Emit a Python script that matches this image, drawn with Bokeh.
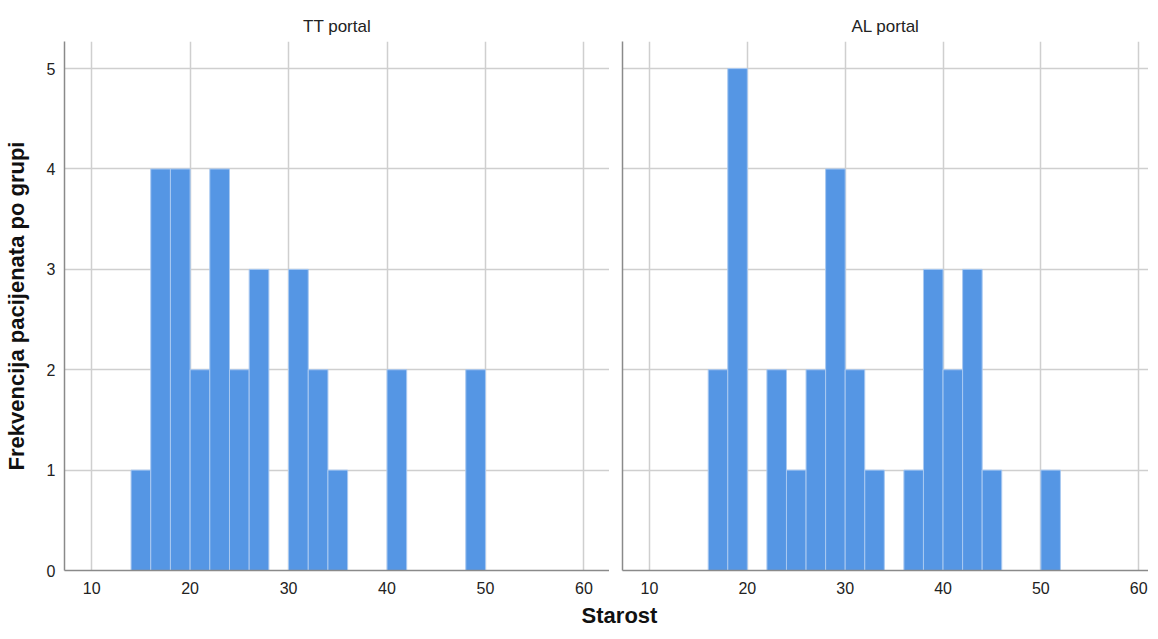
from bokeh.plotting import figure
from bokeh.layouts import column, row
from bokeh.models import Range1d, Label, FixedTicker, Spacer
from bokeh.embed import file_html
from bokeh.resources import INLINE

# Data
panel_titles = ["TT portal", "AL portal"]
bin_starts = [14, 16, 18, 20, 22, 24, 26, 28, 30, 32, 34, 36, 38, 40, 42, 44, 46, 48, 50]
bin_width = 2
tt_counts = [1, 4, 4, 2, 4, 2, 3, 0, 3, 2, 1, 0, 0, 2, 0, 0, 0, 2, 0]
al_counts = [0, 2, 5, 0, 2, 1, 2, 4, 2, 1, 0, 1, 3, 2, 3, 1, 0, 0, 1]
x_ticks = [10, 20, 30, 40, 50, 60]
y_ticks = [0, 1, 2, 3, 4, 5]
x_label = "Starost"
y_label = "Frekvencija pacijenata po grupi"

FONT = "Liberation Sans"
BAR = "#5596e4"
GRID = "#cfcfcf"
AXIS = "#8a8a8a"


def make_panel(title, counts, frame_w, x_end, show_ylabels, border_left):
    p = figure(frame_width=frame_w, frame_height=529, output_backend="svg", toolbar_location=None,
               x_range=Range1d(7.24, x_end), y_range=Range1d(0, 5.27),
               min_border_left=border_left, min_border_right=0,
               min_border_top=35, min_border_bottom=20)
    p.title.text = title
    p.title.align = "center"
    p.title.text_font = FONT
    p.title.text_font_size = "17px"
    p.title.text_font_style = "normal"
    p.title.text_color = "#222222"
    p.title.standoff = 12
    p.outline_line_color = None
    p.background_fill_color = "white"
    p.border_fill_color = "white"

    lefts = [b for b, c in zip(bin_starts, counts) if c > 0]
    rights = [b + bin_width for b, c in zip(bin_starts, counts) if c > 0]
    tops = [c for c in counts if c > 0]
    p.quad(left=lefts, right=rights, top=tops, bottom=0,
           fill_color=BAR, line_color="#a9c9f1", line_width=1)

    p.xaxis.ticker = FixedTicker(ticks=x_ticks)
    if show_ylabels:
        p.yaxis.ticker = FixedTicker(ticks=y_ticks)
    else:
        p.yaxis.ticker = FixedTicker(ticks=[])
    for ax in (p.xaxis[0], p.yaxis[0]):
        ax.axis_line_color = AXIS
        ax.axis_line_width = 1.5
        ax.major_tick_line_color = None
        ax.minor_tick_line_color = None
        ax.major_tick_out = 0
        ax.major_tick_in = 0
        ax.minor_tick_out = 0
        ax.minor_tick_in = 0
        ax.major_label_text_font = FONT
        ax.major_label_text_font_size = "16px"
        ax.major_label_text_color = "#222222"
    p.xaxis.major_label_standoff = 11
    p.yaxis.major_label_standoff = 9
    if show_ylabels:
        p.yaxis.axis_label = y_label
        p.yaxis.axis_label_text_font = FONT
        p.yaxis.axis_label_text_font_size = "22px"
        p.yaxis.axis_label_text_font_style = "bold"
        p.yaxis.axis_label_text_color = "#111111"
        p.yaxis.axis_label_standoff = 15
    else:
        p.yaxis.major_label_standoff = 0

    p.xgrid.ticker = FixedTicker(ticks=x_ticks)
    p.ygrid.ticker = FixedTicker(ticks=y_ticks)
    p.xgrid.grid_line_color = GRID
    p.ygrid.grid_line_color = GRID
    p.xgrid.grid_line_width = 1.5
    p.ygrid.grid_line_width = 1.5
    return p


p1 = make_panel(panel_titles[0], tt_counts, 545, 62.6, True, 58)
p2 = make_panel(panel_titles[1], al_counts, 526, 61.0, False, 13)

p3 = figure(width=1142, height=35, output_backend="svg", toolbar_location=None,
            x_range=Range1d(0, 1), y_range=Range1d(0, 1),
            min_border=0)
p3.outline_line_color = None
p3.axis.visible = False
p3.grid.visible = False
p3.add_layout(Label(x=619, y=0.45, x_units="screen", y_units="data", text=x_label,
                    text_font=FONT, text_font_size="22px", text_font_style="bold",
                    text_color="#111111", text_align="center", text_baseline="middle"))

layout = column(Spacer(height=6, width=1142), row(p1, p2), p3)
open("out.html", "w").write(file_html(layout, INLINE))
